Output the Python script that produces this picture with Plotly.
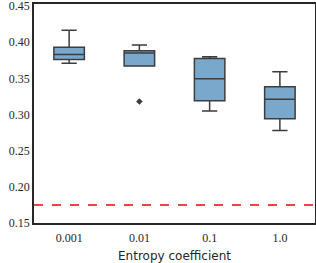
import plotly.graph_objects as go

categories = ["0.001", "0.01", "0.1", "1.0"]
q1 = [0.376, 0.367, 0.319, 0.294]
median = [0.383, 0.385, 0.3495, 0.321]
q3 = [0.393, 0.388, 0.3775, 0.3385]
lower = [0.371, 0.367, 0.305, 0.278]
upper = [0.4165, 0.396, 0.380, 0.359]
outlier_x = ["0.01"]
outlier_y = [0.318]
baseline = 0.175

fig = go.Figure()
fig.add_trace(go.Box(
    x=categories, q1=q1, median=median, q3=q3,
    lowerfence=lower, upperfence=upper,
    fillcolor="#7aa8cc", line=dict(color="#3d3d3d", width=1.5),
    whiskerwidth=0.5, boxpoints=False, showlegend=False,
))
fig.add_trace(go.Scatter(
    x=outlier_x, y=outlier_y, mode="markers",
    marker=dict(symbol="diamond", size=5, color="#3d3d3d"),
    showlegend=False,
))
fig.add_hline(y=baseline, line=dict(color="red", width=1.5, dash="dash"))

fig.update_layout(
    width=316, height=263,
    margin=dict(l=34, r=1, t=4, b=40),
    plot_bgcolor="white", paper_bgcolor="white",
    boxgap=0.38,
    font=dict(family="Liberation Serif", size=12, color="#262626"),
)
fig.update_xaxes(
    type="category", range=[-0.5, 3.5], automargin=False,
    showline=True, mirror=True, linecolor="#262626", linewidth=1.5,
    showgrid=False, ticks="", ticklen=0, ticklabelstandoff=3,
    title=dict(text="Entropy coefficient", standoff=10,
               font=dict(family="DejaVu Sans", size=12)),
)
fig.update_yaxes(
    range=[0.15, 0.4528], tickvals=[0.15, 0.2, 0.25, 0.3, 0.35, 0.4, 0.45],
    tickformat=".2f", automargin=False, ticklabeloverflow="allow",
    showline=True, mirror=True, linecolor="#262626", linewidth=1.5,
    showgrid=False, zeroline=False, ticks="", ticklen=0,
)
fig.write_html("out.html", config={"displayModeBar": False},
               post_script="document.body.style.margin='0';document.body.style.overflow='hidden';")
